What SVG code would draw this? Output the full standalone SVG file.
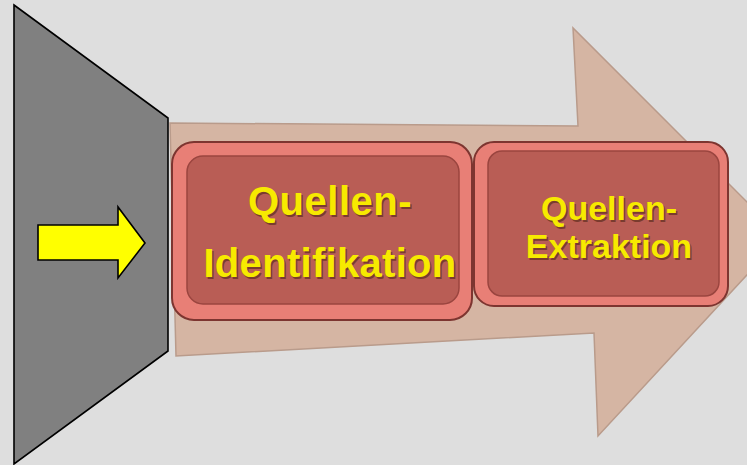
<svg xmlns="http://www.w3.org/2000/svg" width="747" height="465" viewBox="0 0 747 465">
<defs>
<style>
.bg{fill:#dedede}
.funnel{fill:#808080;stroke:#000;stroke-width:1.6;stroke-linejoin:miter}
.yarrow{fill:#ffff00;stroke:#000;stroke-width:1.6}
.big{fill:#d5b5a3;stroke:#b99b8b;stroke-width:1.5;stroke-linejoin:miter}
.rim{fill:#e87f76;stroke:#7d3530;stroke-width:2}
.face{fill:#b95d55;stroke:#9a453f;stroke-width:1.5}
.lbl{font-family:"Liberation Sans",Arial,sans-serif;font-weight:bold;fill:#f7ea00;text-anchor:middle}
.sh{font-family:"Liberation Sans",Arial,sans-serif;font-weight:bold;fill:#7a3b2e;text-anchor:middle}
</style>
<linearGradient id="rimg" x1="0" y1="0" x2="1" y2="1">
<stop offset="0" stop-color="#f08a80"/>
<stop offset="1" stop-color="#e4766e"/>
</linearGradient>
<linearGradient id="faceg" x1="0" y1="0" x2="0" y2="1">
<stop offset="0" stop-color="#b55750"/>
<stop offset="1" stop-color="#bf645b"/>
</linearGradient>
</defs>
<rect class="bg" x="0" y="0" width="747" height="465"/>
<g id="big-arrow">
<path class="big" d="M170,123 L578,126 L573,28 L782,237 L598,436 L594,333 L176,356 Z"/>
</g>
<g id="funnel">
<path class="funnel" d="M14,5 L168,118 L168,351 L14,464 Z"/>
</g>
<g id="connectors">
<path class="yarrow" d="M38,225 L118,225 L118,207 L145,243 L118,278 L118,260 L38,260 Z"/>
</g>
<g id="node-identifikation">
<rect class="rim" x="172" y="142" width="300" height="178" rx="22" fill="url(#rimg)"/>
<rect class="face" x="187" y="156" width="272" height="148" rx="16" fill="url(#faceg)"/>
<text class="sh" x="331.5" y="216.5" font-size="40" letter-spacing="0.5">Quellen-</text>
<text class="lbl" x="330" y="215" font-size="40" letter-spacing="0.5">Quellen-</text>
<text class="sh" x="331.5" y="278.5" font-size="40" letter-spacing="0.3">Identifikation</text>
<text class="lbl" x="330" y="277" font-size="40" letter-spacing="0.3">Identifikation</text>
</g>
<g id="node-extraktion">
<rect class="rim" x="474" y="142" width="254" height="164" rx="20" fill="url(#rimg)"/>
<rect class="face" x="488" y="151" width="231" height="145" rx="14" fill="url(#faceg)"/>
<text class="sh" x="610.5" y="221.5" font-size="34">Quellen-</text>
<text class="lbl" x="609" y="220" font-size="34">Quellen-</text>
<text class="sh" x="610.5" y="259.5" font-size="34">Extraktion</text>
<text class="lbl" x="609" y="258" font-size="34">Extraktion</text>
</g>
</svg>
